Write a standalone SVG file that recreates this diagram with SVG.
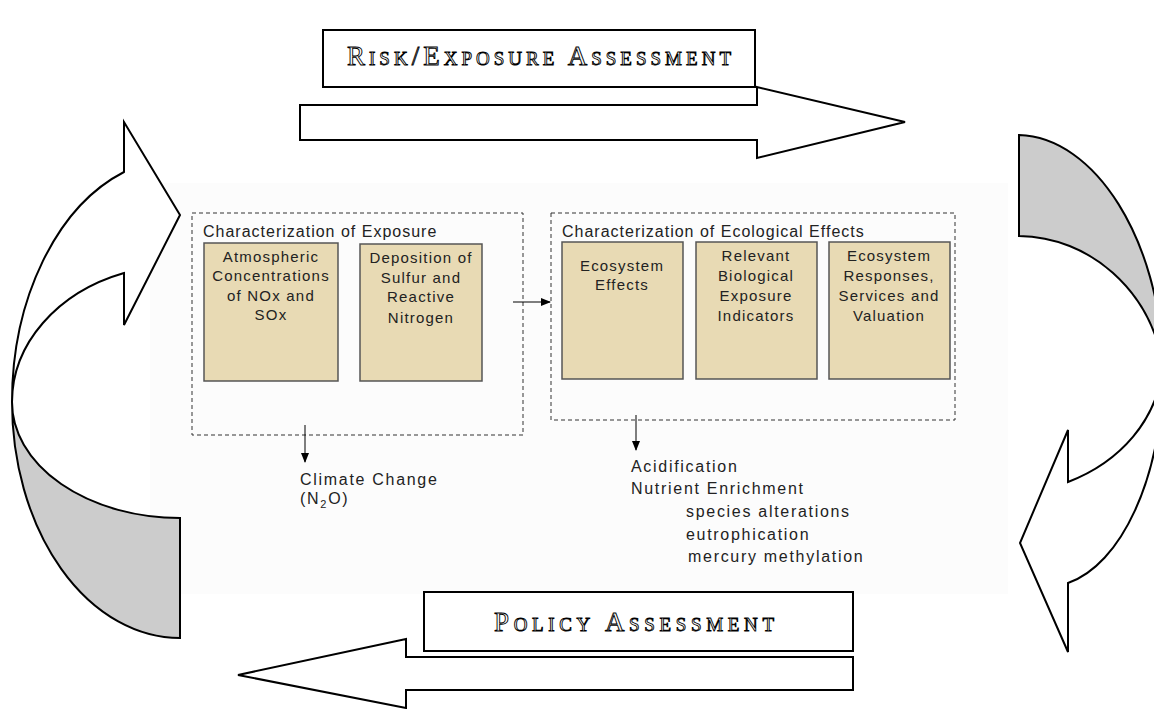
<svg xmlns="http://www.w3.org/2000/svg" width="1154" height="709" viewBox="0 0 1154 709">
<defs>
<marker id="ah" markerWidth="10" markerHeight="8" refX="9" refY="4" orient="auto" markerUnits="userSpaceOnUse"><path d="M0,0 L10,4 L0,8 Z" fill="#000"/></marker>
<style>
.big{fill:#fff;stroke:#000;stroke-width:2;stroke-linejoin:miter}
.gray{fill:#cccccc;stroke:#000;stroke-width:2}
.dash{fill:none;stroke:#333;stroke-width:1;stroke-dasharray:4 3}
.tan{fill:#e8dab4;stroke:#555;stroke-width:1.5}
.t{font-family:"Liberation Sans",Arial,sans-serif;fill:#222}
.box{font-size:15px;letter-spacing:1.2px;text-anchor:middle}
.ttl{font-size:16px;letter-spacing:1px}
.lst{font-size:16px;letter-spacing:1.7px}
.hdr{font-family:"Liberation Serif","Times New Roman",serif;font-variant:small-caps;fill:#fff;stroke:#000;stroke-width:0.9;text-anchor:middle;font-size:27px}
.con{stroke:#000;stroke-width:1;fill:none}
</style>
</defs>
<rect x="150" y="183" width="858" height="411" fill="#fcfcfc"/>

<g id="left-cycle-arrow">
<path class="big" d="M124,172 A168 244 0 0 0 12,402 A168 137 0 0 1 124,273 L124,325 L180,215 L124,122 Z"/>
<path class="gray" d="M12,402 A168 236 0 0 0 180,638 L180,518 A168 116 0 0 1 12,402 Z"/>
</g>

<g id="right-cycle-arrow">
<path class="gray" d="M1019,135 C1095,137 1160,240 1163,365 C1150,290 1090,237 1019,236 Z"/>
<path class="big" d="M1163,365 C1163,480 1120,565 1068,583 L1068,652 L1020,543 L1068,430 L1068,482 C1120,462 1158,420 1163,365 Z"/>
</g>

<g id="risk-exposure">
<rect class="big" x="323" y="30" width="432" height="57"/>
<text class="hdr" x="539" y="65" textLength="384" lengthAdjust="spacing">Risk/Exposure Assessment</text>
<path class="big" d="M300,105 L757,105 L757,87 L905,122 L757,158 L757,140 L300,140 Z"/>
</g>

<g id="policy">
<rect class="big" x="424" y="592" width="429" height="59"/>
<text class="hdr" x="634" y="631" textLength="280" lengthAdjust="spacing">Policy Assessment</text>
<path class="big" d="M853,657 L406,657 L406,639 L238,675 L406,708 L406,690 L853,690 Z"/>
</g>

<g id="exposure">
<rect class="dash" x="192" y="213" width="331" height="222"/>
<text class="t ttl" x="203" y="237">Characterization of Exposure</text>
</g>
<g id="atmospheric">
<rect class="tan" x="204" y="243" width="134" height="138"/>
<text class="t box"><tspan x="271" y="262">Atmospheric</tspan><tspan x="271" y="281">Concentrations</tspan><tspan x="271" y="301">of NOx and</tspan><tspan x="271" y="320">SOx</tspan></text>
</g>
<g id="deposition">
<rect class="tan" x="360" y="244" width="122" height="137"/>
<text class="t box"><tspan x="421" y="263">Deposition of</tspan><tspan x="421" y="283">Sulfur and</tspan><tspan x="421" y="302">Reactive</tspan><tspan x="421" y="323">Nitrogen</tspan></text>
</g>

<g id="ecological">
<rect class="dash" x="551" y="213" width="404" height="207"/>
<text class="t ttl" x="562" y="237">Characterization of Ecological Effects</text>
</g>
<g id="ecosystem-effects">
<rect class="tan" x="562" y="242" width="121" height="137"/>
<text class="t box"><tspan x="622" y="271">Ecosystem</tspan><tspan x="622" y="290">Effects</tspan></text>
</g>
<g id="indicators">
<rect class="tan" x="696" y="242" width="121" height="137"/>
<text class="t box"><tspan x="756" y="261">Relevant</tspan><tspan x="756" y="281">Biological</tspan><tspan x="756" y="301">Exposure</tspan><tspan x="756" y="321">Indicators</tspan></text>
</g>
<g id="responses">
<rect class="tan" x="829" y="242" width="121" height="137"/>
<text class="t box"><tspan x="889" y="261">Ecosystem</tspan><tspan x="889" y="281">Responses,</tspan><tspan x="889" y="301">Services and</tspan><tspan x="889" y="321">Valuation</tspan></text>
</g>

<g id="climate">
<text class="t lst"><tspan x="300" y="485">Climate Change</tspan><tspan x="300" y="504">(N<tspan font-size="11" dy="4">2</tspan><tspan dy="-4">O)</tspan></tspan></text>
</g>
<g id="outcomes">
<text class="t lst"><tspan x="631" y="472">Acidification</tspan><tspan x="631" y="494">Nutrient Enrichment</tspan><tspan x="686" y="517">species alterations</tspan><tspan x="686" y="540">eutrophication</tspan><tspan x="688" y="562">mercury methylation</tspan></text>
</g>

<g id="connectors">
<line class="con" x1="513" y1="302" x2="550" y2="302" marker-end="url(#ah)"/>
<line class="con" x1="305" y1="425" x2="305" y2="462" marker-end="url(#ah)"/>
<line class="con" x1="636" y1="415" x2="636" y2="450" marker-end="url(#ah)"/>
</g>
</svg>
